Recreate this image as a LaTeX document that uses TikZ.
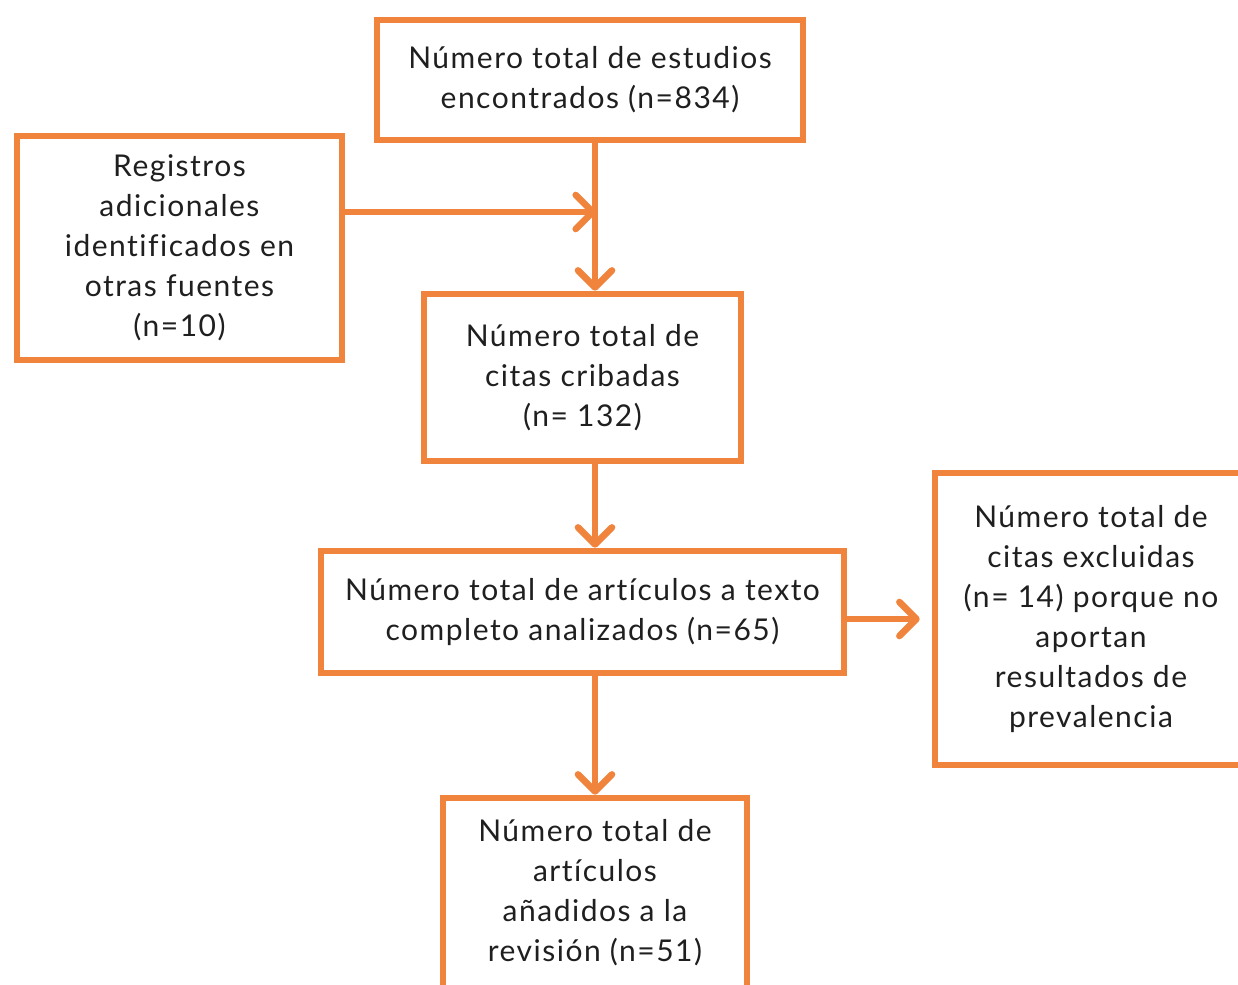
\documentclass[tikz,border=0pt]{standalone}
\usepackage{fontspec}
\setmainfont[LetterSpace=5,Ligatures=NoCommon]{Lato}
\usetikzlibrary{arrows.meta}
\definecolor{flowor}{RGB}{240,132,60}

\begin{document}
\begin{tikzpicture}[x=0.5pt, y=-0.5pt,
        box/.style={draw=flowor, line width=3.3pt, align=center,
            inner sep=0pt, font=\fontsize{15pt}{20pt}\selectfont, text=black!88},
        arr/.style={draw=flowor, line width=3.3pt,
            -{Straight Barb[length=8.5pt,width=17pt,round]}}]

        \clip (0,0) rectangle (1238,985);
        \fill[white] (0,0) rectangle (1238,985);

        % Boxes
        \node[box, minimum width=213pt, minimum height=60pt] (total) at (590,80)
            {Número total de estudios\\encontrados (n=834)};
        \node[box, minimum width=162.5pt, minimum height=112pt] (extra) at (179.5,248)
            {Registros\\adicionales\\identificados en\\otras fuentes\\(n=10)};
        \node[box, minimum width=158.5pt, minimum height=83.5pt] (cribadas) at (582.5,377.5)
            {Número total de\\citas cribadas\\(n= 132)};
        \node[box, minimum width=261.5pt, minimum height=61pt] (analizados) at (582.5,612)
            {Número total de artículos a texto\\completo analizados (n=65)};
        \node[box, minimum width=156pt, minimum height=146pt] (excluidas) at (1091,619)
            {Número total de\\citas excluidas\\(n= 14) porque no\\aportan\\resultados de\\prevalencia};
        \node[box, minimum width=152pt, minimum height=95pt] (anadidos) at (595,893)
            {Número total de\\artículos\\añadidos a la\\revisión (n=51)};

        % Lines
        \coordinate (join) at (596,212);
        \draw[arr] (total.south -| anadidos.north) -- (cribadas.north -| anadidos.north);
        \draw[arr] (extra.east |- join) -- (join);
        \draw[arr] (cribadas.south -| anadidos.north) -- (analizados.north -| anadidos.north);
        \draw[arr, shorten >=6pt] (analizados.east |- excluidas.west) -- (excluidas.west);
        \draw[arr] (analizados.south -| anadidos.north) -- (anadidos.north);

    \end{tikzpicture}
\end{document}
